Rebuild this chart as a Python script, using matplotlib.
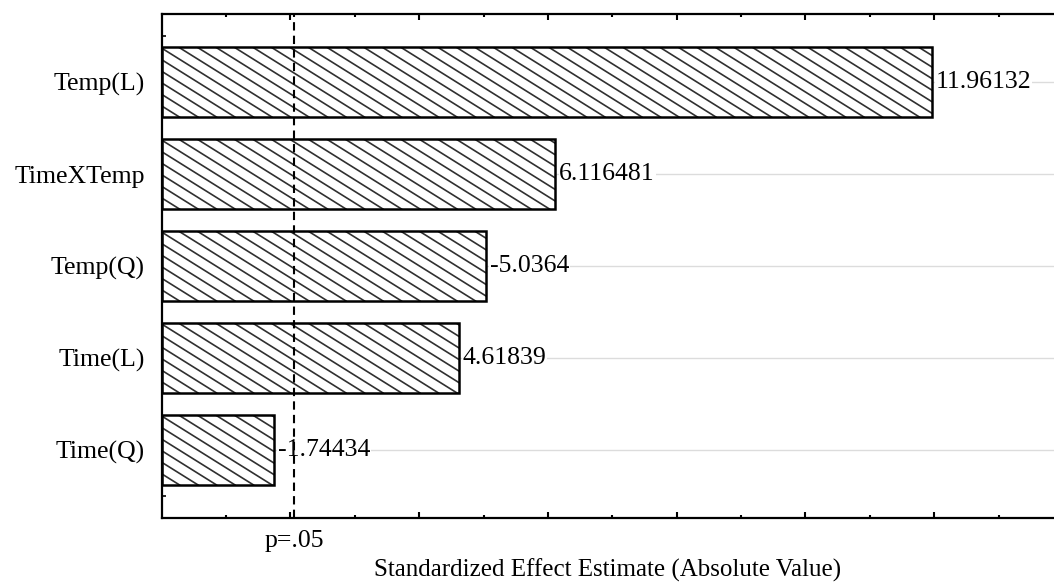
import numpy as np
import matplotlib
matplotlib.use("Agg")
import matplotlib.pyplot as plt
from matplotlib.collections import LineCollection
from matplotlib.transforms import blended_transform_factory

plt.rcParams["font.family"] = ["Liberation Serif", "DejaVu Serif"]

# Pareto chart of standardized effects
labels = ["Temp(L)", "TimeXTemp", "Temp(Q)", "Time(L)", "Time(Q)"]
effects = [11.96132, 6.116481, -5.0364, 4.61839, -1.74434]
p_crit = 2.0555  # t value for p=.05

fig = plt.figure(figsize=(10.54, 5.84), dpi=100)
ax = fig.add_axes([0.1534, 0.113, 1 - 0.1534, 0.863])

y = np.arange(len(labels))
width = np.abs(effects)
bar_h = 0.77

ax.set_xlim(0, 13.86)
ax.set_ylim(len(labels) - 0.26, -0.74)

ax.grid(axis="y", color="#dcdcdc", linewidth=1.0, zorder=0)
ax.set_axisbelow(True)

bars = ax.barh(y, width, height=bar_h, color="white", edgecolor="none", zorder=2)

# diagonal hatching at a shallow angle, clipped to each bar
sx = ax.transData.transform((1, 0))[0] - ax.transData.transform((0, 0))[0]
sy = abs(ax.transData.transform((0, 1))[1] - ax.transData.transform((0, 0))[1])
step_px = 18.5
angle = np.deg2rad(32)
for bar, yc, w in zip(bars, y, width):
    run = (bar_h * sy / np.tan(angle)) / sx
    starts = np.arange(-run, w + step_px / sx, step_px / sx)
    segs = [[(x0, yc - bar_h / 2), (x0 + run, yc + bar_h / 2)] for x0 in starts]
    lc = LineCollection(segs, colors="#303030", linewidths=1.2, zorder=3)
    ax.add_collection(lc)
    lc.set_clip_path(bar)

ax.barh(y, width, height=bar_h, fill=False, edgecolor="black", linewidth=1.8, zorder=4)

fs = 18.5
for yc, w, v in zip(y, width, effects):
    ax.text(w + 0.06, yc, str(v), va="center", ha="left", fontsize=fs,
            zorder=5, bbox=dict(facecolor="white", edgecolor="none", pad=0.5))

ax.axvline(p_crit, color="black", linestyle=(0, (4, 2.5)), linewidth=1.5, zorder=6)
trans = blended_transform_factory(ax.transData, ax.transAxes)
ax.text(p_crit, -0.045, "p=.05", transform=trans, ha="center", va="center", fontsize=fs)

ax.set_yticks(y, labels, fontsize=fs)
ax.set_yticks(y[:-1] + 0.5, minor=True)
ax.set_yticks([-0.5, len(labels) - 0.5], minor=True)
ax.set_xticks(np.arange(2, 14, 2))
ax.set_xticks(np.arange(1, 14, 2), minor=True)
ax.tick_params(axis="x", which="both", direction="in", top=True, labelbottom=False)
ax.tick_params(axis="x", which="major", length=4, width=1.5)
ax.tick_params(axis="x", which="minor", length=2, width=1.5)
ax.tick_params(axis="y", which="both", direction="in", length=3, width=1.2, pad=12)

ax.set_xlabel("Standardized Effect Estimate (Absolute Value)", fontsize=18, labelpad=0)
ax.xaxis.set_label_coords(0.5, -0.08)

ax.spines["right"].set_visible(False)
for side in ("left", "top", "bottom"):
    ax.spines[side].set_linewidth(1.6)

fig.savefig("out.png", dpi=100)
